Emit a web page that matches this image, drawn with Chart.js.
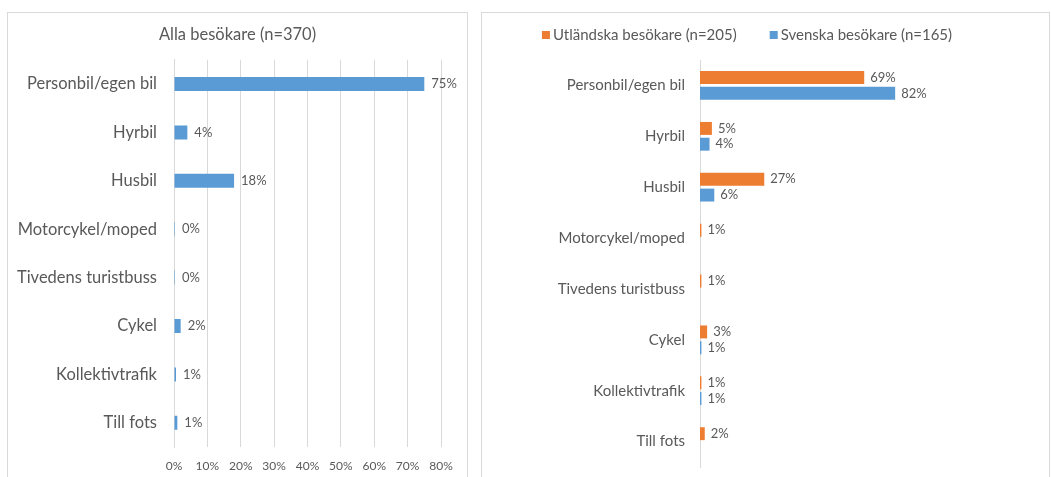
<!DOCTYPE html>
<html>
<head>
<meta charset="utf-8">
<script src="https://cdn.jsdelivr.net/npm/chart.js@4"></script>
<style>
  html,body{margin:0;padding:0;background:#fff;width:1051px;height:477px;overflow:hidden;}
  .panel{position:absolute;border:1px solid #d9d9d9;background:#fff;}
  .box{position:absolute;}
</style>
</head>
<body>
<div class="panel" style="left:7px;top:12px;width:459px;height:480px;"></div>
<div class="panel" style="left:481px;top:12px;width:567px;height:480px;"></div>
<div class="box" style="left:8px;top:13px;width:459px;height:464px;"><canvas id="cAll"></canvas></div>
<div class="box" style="left:482px;top:13px;width:567px;height:464px;"><canvas id="cSplit"></canvas></div>
<script>
// Färdsätt till Tiveden — all visitors vs. foreign/Swedish visitors
const BLUE='#5B9BD5', ORANGE='#ED7D31', TEXT='#595959', GRID='#d9d9d9';
const FONT="Lato, 'Liberation Sans', Arial, sans-serif";

const categories=['Personbil/egen bil','Hyrbil','Husbil','Motorcykel/moped','Tivedens turistbuss','Cykel','Kollektivtrafik','Till fots'];
const allVisitors=[75,4,18,0.3,0.3,2,0.6,1];
const foreign=[69,5,27,0.6,0.6,3,0.6,2];
const swedish=[82,4,6,null,null,0.6,0.6,null];
const xTicks=[0,10,20,30,40,50,60,70,80];

Chart.defaults.font.family=FONT;
Chart.defaults.color=TEXT;
Chart.defaults.animation=false;

// value labels to the right of each bar
const barLabels={
  id:'barLabels',
  afterDatasetsDraw(chart,args,opts){
    const ctx=chart.ctx;
    ctx.save();
    ctx.font=opts.size+'px '+FONT;
    ctx.fillStyle=TEXT;
    ctx.textBaseline='middle';
    ctx.textAlign='left';
    chart.data.datasets.forEach((ds,i)=>{
      chart.getDatasetMeta(i).data.forEach((bar,j)=>{
        const v=ds.data[j];
        if(v==null) return;
        ctx.fillText(Math.round(v)+'%',bar.x+opts.offset,bar.y);
      });
    });
    ctx.restore();
  }
};

// Excel-style legend: small squares, tight gap to text, wide gap between items
const squareLegend={
  id:'squareLegend',
  afterDraw(chart,args,opts){
    const ctx=chart.ctx, ds=chart.data.datasets;
    ctx.save();
    ctx.font=opts.size+'px '+FONT;
    ctx.textBaseline='middle';
    const widths=ds.map(d=>opts.box+opts.boxGap+ctx.measureText(d.label).width);
    const total=widths.reduce((a,b)=>a+b,0)+opts.itemGap*(ds.length-1);
    let x=opts.cx-total/2;
    ds.forEach((d,i)=>{
      ctx.fillStyle=d.backgroundColor;
      ctx.fillRect(x,opts.cy-opts.box/2,opts.box,opts.box);
      ctx.fillStyle=TEXT;
      ctx.fillText(d.label,x+opts.box+opts.boxGap,opts.cy);
      x+=widths[i]+opts.itemGap;
    });
    ctx.restore();
  }
};

new Chart(document.getElementById('cAll'),{
  type:'bar',
  data:{labels:categories,datasets:[{label:'Alla besökare (n=370)',data:allVisitors,backgroundColor:BLUE,
    categoryPercentage:1,barPercentage:0.29}]},
  options:{indexAxis:'y',responsive:true,maintainAspectRatio:false,
    layout:{padding:0},
    plugins:{legend:{display:false},tooltip:{enabled:false},
      title:{display:true,text:'Alla besökare (n=370)',color:TEXT,font:{size:16.5,weight:'normal'},padding:{top:12,bottom:15}},
      barLabels:{size:13,offset:7}},
    scales:{
      x:{min:0,max:80,afterBuildTicks:s=>{s.ticks=xTicks.map(v=>({value:v}));},
        afterFit:s=>{s.height=30;},
        ticks:{callback:v=>v+'%',font:{size:12},padding:12,color:TEXT},
        grid:{color:GRID,drawTicks:false},border:{display:false}},
      y:{afterFit:s=>{s.width=166;},
        ticks:{font:{size:16.5},padding:17,color:TEXT},
        grid:{display:false,drawTicks:false},border:{display:true,color:GRID}},
      // empty right-hand strip so the title stays centred on the whole panel
      yRight:{type:'linear',position:'right',afterFit:s=>{s.width=26;},
        ticks:{display:false},grid:{display:false},border:{display:false}}
    }},
  plugins:[barLabels]
});

new Chart(document.getElementById('cSplit'),{
  type:'bar',
  data:{labels:categories,datasets:[
    {label:'Utländska besökare (n=205)',data:foreign,backgroundColor:ORANGE,categoryPercentage:0.62,barPercentage:0.82},
    {label:'Svenska besökare (n=165)',data:swedish,backgroundColor:BLUE,categoryPercentage:0.62,barPercentage:0.82}
  ]},
  options:{indexAxis:'y',responsive:true,maintainAspectRatio:false,
    layout:{padding:{left:0,right:111,top:47,bottom:10}},
    plugins:{tooltip:{enabled:false},legend:{display:false},
      squareLegend:{cx:265,cy:22,box:8,boxGap:3,itemGap:33,size:15},
      barLabels:{size:13,offset:6}},
    scales:{
      x:{min:0,max:100,display:false},
      y:{afterFit:s=>{s.width=218;s.paddingTop=0;s.paddingBottom=0;},
        ticks:{font:{size:15},padding:15,color:TEXT},
        grid:{display:false,drawTicks:false},border:{display:true,color:GRID}}
    }},
  plugins:[barLabels,squareLegend]
});
</script>
</body>
</html>
